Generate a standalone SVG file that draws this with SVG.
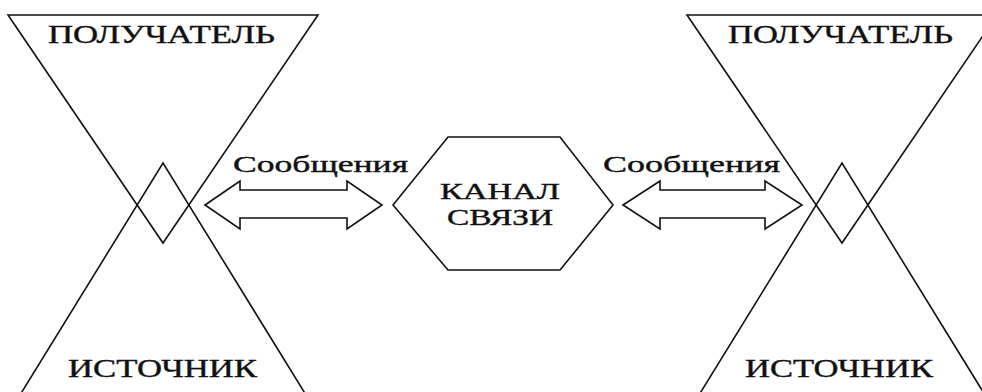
<svg xmlns="http://www.w3.org/2000/svg" width="982" height="392" viewBox="0 0 982 392">
<style>
.ln{fill:none;stroke:#111;stroke-width:1.6;stroke-linejoin:miter}
.ar{fill:#fff;stroke:#111;stroke-width:1.6}
.t{font-family:"Liberation Serif","DejaVu Serif",serif;fill:#111;stroke:#111;stroke-width:0.4}
.big{font-size:26px}
.mid{font-size:24px}
.lab{font-size:24px}
</style>
<rect width="982" height="392" fill="#fff"/>
<g id="left-receiver">
<polygon class="ln" points="8,15 318,15 163,243"/>
<text class="t big" x="48" y="43" textLength="227" lengthAdjust="spacingAndGlyphs">ПОЛУЧАТЕЛЬ</text>
</g>
<g id="left-source">
<polyline class="ln" points="20,395 163,163 306,395"/>
<text class="t big" x="68" y="377" textLength="189" lengthAdjust="spacingAndGlyphs">ИСТОЧНИК</text>
</g>
<g id="right-receiver">
<polygon class="ln" points="687,15 997,15 842,243"/>
<text class="t big" x="728" y="43" textLength="225" lengthAdjust="spacingAndGlyphs">ПОЛУЧАТЕЛЬ</text>
</g>
<g id="right-source">
<polyline class="ln" points="699,395 842,163 985,395"/>
<text class="t big" x="745" y="377" textLength="188" lengthAdjust="spacingAndGlyphs">ИСТОЧНИК</text>
</g>
<g id="channel">
<polygon class="ln" points="393,205 448,137 560,137 613,205 560,270 448,270"/>
<text class="t mid" x="440" y="199" textLength="120" lengthAdjust="spacingAndGlyphs">КАНАЛ</text>
<text class="t mid" x="447" y="225" textLength="106" lengthAdjust="spacingAndGlyphs">СВЯЗИ</text>
</g>
<g id="connectors">
<polygon class="ar" points="205,205 240,181 240,190 347,190 347,181 382,205 347,229 347,218 240,218 240,229"/>
<text class="t lab" x="233" y="172" textLength="175" lengthAdjust="spacingAndGlyphs">Сообщения</text>
<polygon class="ar" points="623,205 660,181 660,190 765,190 765,181 802,205 765,229 765,218 660,218 660,229"/>
<text class="t lab" x="603" y="172" textLength="177" lengthAdjust="spacingAndGlyphs">Сообщения</text>
</g>
</svg>
